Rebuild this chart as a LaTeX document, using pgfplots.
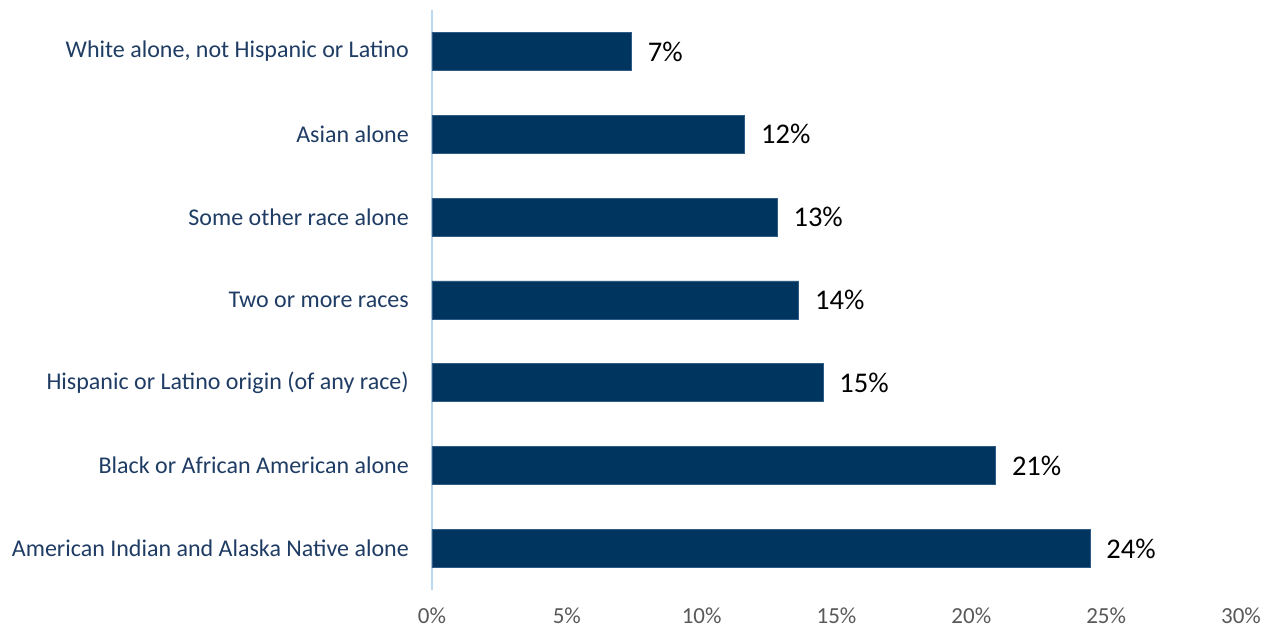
\documentclass[border=0pt]{standalone}
\usepackage{pgfplots}
\pgfplotsset{compat=1.18}
\usepackage{pgfplotstable}
\usepackage{fontspec}
\setmainfont{Carlito}
\definecolor{barcol}{HTML}{003560}
\definecolor{baredge}{HTML}{2E5C85}
\definecolor{labcol}{HTML}{1F3C64}
\definecolor{axcol}{HTML}{BDD7EE}
\definecolor{tickcol}{HTML}{595959}
\pgfplotstableread{
y val label
0 24.4 24\%
1 20.9 21\%
2 14.5 15\%
3 13.6 14\%
4 12.8 13\%
5 11.6 12\%
6 7.4 7\%
}\datatable
\begin{document}
\begin{tikzpicture}
\begin{axis}[
  scale only axis,
  width=809pt, height=580pt,
  xbar, bar width=38pt,
  xmin=0, xmax=30, ymin=-0.5, ymax=6.5,
  xtick={0,5,...,30},
  xticklabel={\pgfmathprintnumber{\tick}\%},
  xticklabel style={font=\fontsize{23}{26}\selectfont, text=tickcol, inner sep=0pt, anchor=north, yshift=-18pt},
  /pgf/number format/assume math mode=true,
  ytick={0,...,6},
  yticklabels={American Indian and Alaska Native alone, Black or African American alone, Hispanic or Latino origin (of any race), Two or more races, Some other race alone, Asian alone, {White alone, not Hispanic or Latino}},
  yticklabel style={font=\fontsize{24}{28}\selectfont, text=labcol, inner sep=0pt, anchor=east, xshift=-23pt},
  major tick length=0pt,
  axis y line*=left, axis x line*=bottom,
  x axis line style={draw=none},
  y axis line style={draw=axcol, line width=1.2pt},
  axis line style={-},
  nodes near coords,
  point meta=explicit symbolic,
  nodes near coords style={font=\fontsize{28.5}{32}\selectfont, text=black, anchor=west, inner sep=0pt, xshift=16pt},
]
\addplot[fill=barcol, draw=baredge, line width=0.8pt] table[x=val, y=y, meta=label] {\datatable};
\end{axis}
\pgfresetboundingbox
\path ([xshift=-432pt,yshift=-40pt]current axis.south west) rectangle ([xshift=33pt,yshift=10pt]current axis.north east);
\end{tikzpicture}
\end{document}
